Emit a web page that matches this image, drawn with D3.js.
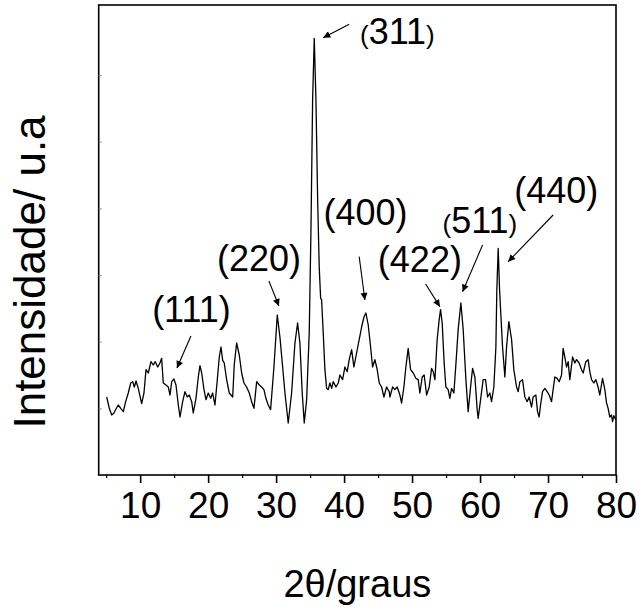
<!DOCTYPE html>
<html><head><meta charset="utf-8">
<script src="https://cdn.jsdelivr.net/npm/d3@7/dist/d3.min.js"></script>
<style>body{margin:0;background:#fff}svg{display:block}text{font-family:"Liberation Sans",Arial,sans-serif;fill:#000}</style>
</head><body><svg id="c" width="642" height="611"></svg>
<script>
const twoTheta = [5.08,5.46,5.81,6.15,6.44,6.78,7.14,7.52,7.87,8.25,8.61,8.90,9.14,9.39,9.72,10.22,10.56,10.86,11.19,11.59,11.93,12.22,12.58,12.91,13.16,13.40,13.80,14.14,14.39,14.64,14.97,15.27,15.61,15.86,16.25,16.59,16.93,17.22,17.58,17.81,18.21,18.55,18.80,19.05,19.39,19.68,20.02,20.37,20.66,21.00,21.25,21.64,21.89,22.14,22.37,22.72,23.11,23.61,23.84,24.19,24.58,24.93,25.27,25.66,26.05,26.40,26.74,27.14,27.52,27.87,28.21,28.50,28.84,29.19,29.68,30.17,30.56,30.96,31.30,31.78,32.28,32.77,33.16,33.50,33.84,34.14,34.49,34.87,35.12,35.37,35.61,35.86,36.11,36.34,36.55,36.69,36.93,37.18,37.43,37.66,37.91,38.17,38.40,38.80,39.14,39.39,39.78,40.12,40.46,40.75,41.11,41.44,41.84,42.22,42.58,42.92,43.21,43.55,43.90,44.19,44.53,44.87,45.17,45.52,45.86,46.25,46.64,46.74,47.14,47.47,47.81,48.21,48.46,48.80,49.09,49.43,49.78,50.17,50.56,50.90,51.15,51.49,51.78,52.14,52.52,52.87,53.11,53.36,53.69,53.99,54.19,54.43,54.72,54.97,55.31,55.56,55.81,56.15,56.44,56.78,57.18,57.52,57.92,58.25,58.61,58.90,59.24,59.58,59.72,60.08,60.46,60.81,61.11,61.44,61.69,62.03,62.33,62.47,62.67,62.87,63.31,63.65,63.90,64.24,64.64,64.97,65.37,65.61,65.86,66.25,66.59,66.93,67.22,67.58,67.81,68.21,68.46,68.69,68.90,69.19,69.53,69.87,70.17,70.52,70.75,71.00,71.34,71.64,71.99,72.22,72.47,72.72,72.96,73.21,73.61,73.94,74.19,74.58,74.93,75.17,75.56,75.90,76.15,76.40,76.74,77.03,77.37,77.62,78.02,78.36,78.61,78.84,79.09,79.34,79.49,79.68,79.97];
const intensity = [117,100,90,93,99,105,100,95,110,123,138,140,132,141,130,107,123,158,153,170,165,170,162,168,175,138,135,132,120,140,144,135,105,87,110,125,117,120,110,93,115,147,164,153,128,113,123,115,123,105,132,177,192,172,168,143,123,117,165,198,180,153,138,132,123,110,100,140,135,132,128,115,105,98,162,240,207,162,123,78,123,198,228,198,123,78,113,213,363,563,655,563,413,312,265,263,213,158,130,128,138,130,140,132,138,150,143,162,155,173,188,162,183,203,222,237,243,225,192,162,173,158,138,132,117,132,125,117,132,128,132,120,108,132,162,190,158,153,145,143,123,147,150,120,132,160,155,143,203,233,248,228,168,132,128,115,130,123,165,218,258,218,143,95,132,160,147,98,85,113,143,143,117,123,110,132,192,278,340,278,192,147,192,230,203,158,132,125,140,143,117,110,117,102,117,120,95,87,105,125,130,125,120,110,128,147,145,140,150,190,177,162,170,143,177,168,173,168,158,153,170,173,155,143,138,143,132,120,145,128,108,100,87,90,80,89,83];
const xTicksMajor = [10,20,30,40,50,60,70,80];
const xTicksMinor = [5,15,25,35,45,55,65,75];
const yTicksMinor = [100,200,300,400,500,600];
const peakLabels = ["(111)","(220)","(311)","(400)","(422)","(511)","(440)"];
const labelX = [17.55,27.47,47.84,43.14,51.15,59.97,71.22];
const labelY = [229.5,306,646.5,375,304.5,363,408];
const arrowFromX = [17.47,28.94,40.75,42.22,51.99,60.37,70.75];
const arrowFromY = [208.5,291,676,327.5,286.5,345,390];
const arrowToX = [15.41,30.41,36.93,43.06,54.09,57.43,64.14];
const arrowToY = [160.5,253.5,656,262.5,252.5,275,320];
const smallParens = [false,false,true,false,false,true,false];
const xTitle = "2θ/graus";
const yTitle = "Intensidade/ u.a";

const svg = d3.select("#c");
const L = 98.7, R = 616, T = 5, B = 475;
const x = d3.scaleLinear().domain([3.9, 80]).range([L, R]);
const y = d3.scaleLinear().domain([0, 705]).range([B, T]);

// frame
svg.append("rect").attr("x", L).attr("y", T).attr("width", R - L).attr("height", B - T)
  .attr("fill", "none").attr("stroke", "#000").attr("stroke-width", 1.6);

// x axis
const gx = svg.append("g").attr("transform", `translate(0,${B})`);
const axMaj = d3.axisBottom(x).tickValues(xTicksMajor).tickSize(8).tickPadding(9).tickFormat(d3.format("d"));
gx.call(axMaj);
gx.select(".domain").remove();
gx.selectAll(".tick line").attr("stroke", "#000").attr("stroke-width", 1.6);
gx.selectAll(".tick text").attr("font-size", 37).attr("font-family", '"Liberation Sans",Arial,sans-serif').attr("fill", "#000");
const gxm = svg.append("g").attr("transform", `translate(0,${B})`);
gxm.call(d3.axisBottom(x).tickValues(xTicksMinor).tickSize(3).tickFormat(""));
gxm.select(".domain").remove();
gxm.selectAll(".tick line").attr("stroke", "#000").attr("stroke-width", 1.2);

// y minor ticks (inward, tiny)
const gy = svg.append("g").attr("transform", `translate(${L},0)`);
gy.call(d3.axisRight(y).tickValues(yTicksMinor).tickSize(3).tickFormat(""));
gy.select(".domain").remove();
gy.selectAll(".tick line").attr("stroke", "#888").attr("stroke-width", 1);

// data line
const pts = twoTheta.map((t, i) => [t, intensity[i]]);
svg.append("path").datum(pts)
  .attr("fill", "none").attr("stroke", "#000").attr("stroke-width", 1.3).attr("stroke-linejoin", "round")
  .attr("d", d3.line().x(d => x(d[0])).y(d => y(d[1])));

// arrowhead marker
svg.append("defs").append("marker").attr("id", "ah").attr("viewBox", "0 0 10 10")
  .attr("refX", 10).attr("refY", 5).attr("markerWidth", 11).attr("markerHeight", 7)
  .attr("markerUnits", "userSpaceOnUse").attr("orient", "auto")
  .append("path").attr("d", "M0,0 L10,5 L0,10 Z").attr("fill", "#000");

peakLabels.forEach((lab, i) => {
  svg.append("line")
    .attr("x1", x(arrowFromX[i])).attr("y1", y(arrowFromY[i]))
    .attr("x2", x(arrowToX[i])).attr("y2", y(arrowToY[i]))
    .attr("stroke", "#000").attr("stroke-width", 1.1).attr("marker-end", "url(#ah)");
  const t = svg.append("text").attr("x", x(labelX[i])).attr("y", y(labelY[i]))
    .attr("text-anchor", "middle").attr("font-size", 36);
  if (smallParens[i]) {
    const inner = lab.slice(1, -1);
    t.append("tspan").attr("font-size", 26).text("(");
    t.append("tspan").text(inner);
    t.append("tspan").attr("font-size", 26).text(")");
  } else {
    t.text(lab);
  }
});

// axis titles
svg.append("text").attr("x", (L + R) / 2).attr("y", 597).attr("text-anchor", "middle")
  .attr("font-size", 38).text(xTitle);
svg.append("text").attr("transform", "translate(45,272) rotate(-90)").attr("text-anchor", "middle")
  .attr("font-size", 44).text(yTitle);
</script></body></html>
